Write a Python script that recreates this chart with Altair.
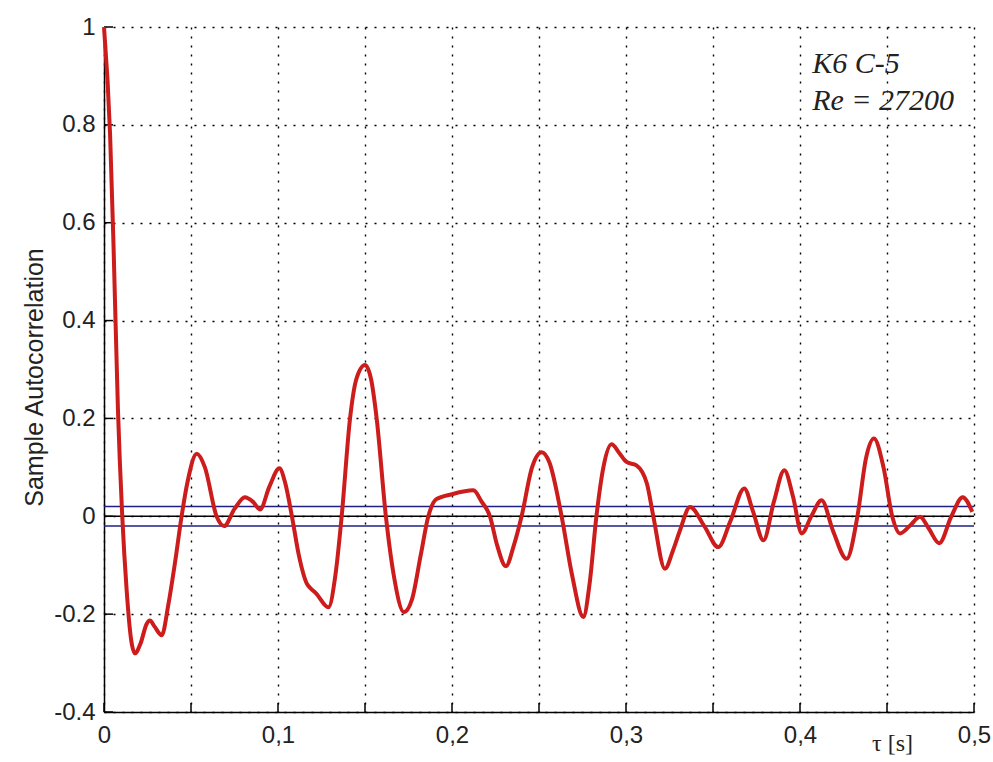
import altair as alt
import pandas as pd

# --- data ---
tau = [0.0, 0.0035, 0.0055, 0.008, 0.0105, 0.013, 0.0155, 0.0178, 0.021, 0.0245,
       0.0264, 0.029, 0.0332, 0.037, 0.041, 0.0446, 0.048, 0.0533, 0.058, 0.0647,
       0.069, 0.075, 0.081, 0.0855, 0.0897, 0.095, 0.1008, 0.104, 0.108, 0.112,
       0.1165, 0.1184, 0.122, 0.129, 0.133, 0.1366, 0.1414, 0.145, 0.15, 0.1535,
       0.1567, 0.162, 0.1665, 0.1724, 0.177, 0.182, 0.1864, 0.191, 0.1998, 0.2123,
       0.217, 0.2218, 0.226, 0.231, 0.2355, 0.240, 0.246, 0.2515, 0.256, 0.263,
       0.269, 0.2755, 0.279, 0.283, 0.287, 0.2917, 0.296, 0.3003, 0.306, 0.312,
       0.3157, 0.3224, 0.327, 0.331, 0.3368, 0.345, 0.353, 0.36, 0.368, 0.373,
       0.379, 0.385, 0.391, 0.396, 0.401, 0.4065, 0.4124, 0.419, 0.4268, 0.433,
       0.438, 0.4425, 0.448, 0.453, 0.4575, 0.463, 0.469, 0.474, 0.480, 0.487,
       0.4935, 0.499]
acf = [1.0, 0.78, 0.55, 0.22, 0.0, -0.15, -0.25, -0.28, -0.26, -0.22,
       -0.213, -0.225, -0.243, -0.18, -0.09, 0.0, 0.07, 0.128, 0.10, 0.0,
       -0.02, 0.015, 0.039, 0.03, 0.014, 0.06, 0.098, 0.07, 0.0, -0.08,
       -0.137, -0.146, -0.158, -0.186, -0.12, 0.0, 0.2, 0.28, 0.309, 0.28,
       0.2, 0.0, -0.12, -0.196, -0.17, -0.08, 0.0, 0.035, 0.045, 0.053,
       0.03, 0.0, -0.06, -0.102, -0.06, 0.0, 0.1, 0.131, 0.11, 0.0,
       -0.12, -0.206, -0.14, 0.0, 0.1, 0.147, 0.13, 0.111, 0.104, 0.067,
       0.0, -0.107, -0.07, -0.029, 0.019, -0.02, -0.063, -0.01, 0.057, 0.01,
       -0.049, 0.03, 0.094, 0.04, -0.035, 0.0, 0.033, -0.03, -0.087, 0.0,
       0.12, 0.159, 0.1, 0.0, -0.035, -0.02, -0.001, -0.025, -0.055, 0.0,
       0.039, 0.009]

conf_bounds = [0.02, -0.02]
zero_line = [0.0]
x_ticks = [0.0, 0.05, 0.1, 0.15, 0.2, 0.25, 0.3, 0.35, 0.4, 0.45, 0.5]
y_ticks = [-0.4, -0.2, 0.0, 0.2, 0.4, 0.6, 0.8, 1.0]
notes = ["K6 C-5", "Re = 27200"]
note_x = [0.407, 0.407]
note_y = [0.907, 0.830]

W, H = 870, 685

line_df = pd.DataFrame({"tau": tau, "acf": acf})
conf_df = pd.DataFrame({"acf": conf_bounds})
zero_df = pd.DataFrame({"acf": zero_line})
xt_df = pd.DataFrame({"tau": x_ticks})
yt_df = pd.DataFrame({"acf": y_ticks})
note_df = pd.DataFrame({"tau": note_x, "acf": note_y, "t": notes})

xscale = alt.Scale(domain=[0, 0.5], nice=False, zero=False)
yscale = alt.Scale(domain=[-0.4, 1.0], nice=False, zero=False)

x_axis = alt.Axis(
    values=x_ticks,
    labelExpr="round(datum.value*100) % 10 == 0 ? replace(toString(datum.value), '.', ',') : ''",
    grid=True, gridDash=[2, 7], gridColor="black", gridWidth=1.4, gridOpacity=1,
    ticks=False, domainColor="black", domainWidth=1.5,
    labelFont="Liberation Sans", labelFontSize=24, labelColor="#222222",
    labelPadding=11, labelFlush=False,
    title="τ [s]", titleFont="Liberation Serif", titleFontSize=24,
    titleFontWeight="normal", titleColor="#222222",
    titleX=788, titleY=38, titleAlign="center", titleBaseline="alphabetic",
)
y_axis = alt.Axis(
    values=y_ticks,
    labelExpr="toString(datum.value)",
    grid=True, gridDash=[2, 7], gridColor="black", gridWidth=1.4, gridOpacity=1,
    ticks=False, domainColor="black", domainWidth=1.5,
    labelFont="Liberation Sans", labelFontSize=24, labelColor="#222222",
    labelPadding=9, labelFlush=False,
    title="Sample Autocorrelation", titleFont="Liberation Sans", titleFontSize=25,
    titleFontWeight="normal", titleColor="#222222",
    titleX=-62, titleY=350, titleAlign="center", titleBaseline="alphabetic",
    titleAngle=270,
)

X = alt.X("tau:Q", scale=xscale, axis=x_axis)
Y = alt.Y("acf:Q", scale=yscale, axis=y_axis)

xticks_layer = alt.Chart(xt_df).mark_rule(color="black", strokeWidth=1.5).encode(
    x=X, y=alt.value(H), y2=alt.value(H - 9),
)
yticks_layer = alt.Chart(yt_df).mark_rule(color="black", strokeWidth=1.5).encode(
    y=Y, x=alt.value(0), x2=alt.value(9),
)

conf_layer = alt.Chart(conf_df).mark_rule(color="#1f1f86", strokeWidth=1.6).encode(y=Y)
zero_layer = alt.Chart(zero_df).mark_rule(color="black", strokeWidth=1.6).encode(y=Y)

line_layer = alt.Chart(line_df).mark_line(
    color="#cc1c1c", strokeWidth=4, interpolate="monotone"
).encode(x=X, y=Y)

note_layer = alt.Chart(note_df).mark_text(
    align="left", baseline="alphabetic", font="Liberation Serif",
    fontStyle="italic", fontSize=30, color="#222222",
).encode(x=X, y=Y, text="t:N")

chart = alt.layer(
    xticks_layer, yticks_layer, conf_layer, zero_layer, line_layer, note_layer,
).properties(
    width=W, height=H,
    padding={"left": 104, "top": 27, "right": 19, "bottom": 50},
    autosize=alt.AutoSizeParams(type="none"),
    background="white",
).configure_view(stroke=None)

chart.save("out.html", embed_options={"renderer": "svg", "actions": False})
